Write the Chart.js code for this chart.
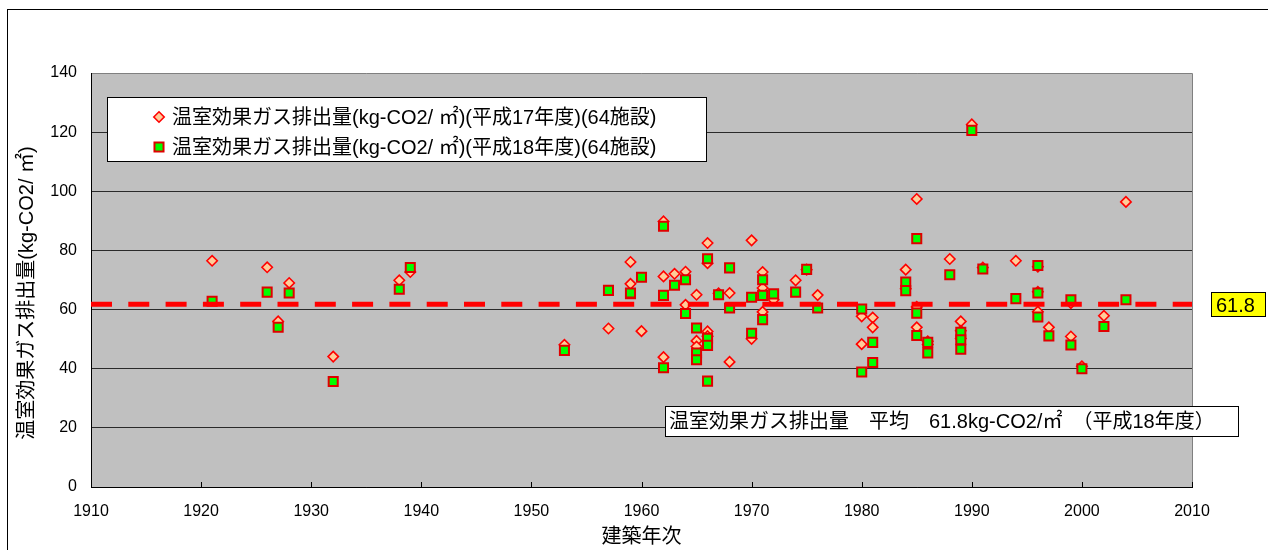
<!DOCTYPE html>
<html>
<head>
<meta charset="utf-8">
<title>建築年次別 温室効果ガス排出量</title>
<script src="https://cdn.jsdelivr.net/npm/chart.js@4.4.1/dist/chart.umd.min.js"></script>
<style>
  html, body { margin: 0; padding: 0; background: #ffffff; }
  #wrap { width: 1268px; height: 550px; position: relative; }
</style>
</head>
<body>
<div id="wrap"><canvas id="chart" width="1268" height="550"></canvas></div>
<script>
// Year each facility was built (64 facilities)
const buildYears = [
  1921, 1926, 1927, 1928, 1932, 1938, 1939, 1953, 1957, 1959,
  1959, 1960, 1962, 1962, 1962, 1963, 1964, 1964, 1965, 1965,
  1965, 1966, 1966, 1966, 1966, 1967, 1968, 1968, 1970, 1970,
  1971, 1971, 1971, 1972, 1974, 1975, 1976, 1980, 1980, 1981,
  1981, 1984, 1984, 1985, 1985, 1985, 1986, 1986, 1988, 1989,
  1989, 1989, 1990, 1991, 1994, 1996, 1996, 1996, 1997, 1999,
  1999, 2000, 2002, 2004
];

// GHG emissions per floor area (kg-CO2/m2), fiscal H17
const ghgH17 = [
  76.5, 74.3, 56.0, 69.0, 44.1, 69.9, 72.7, 48.1, 53.6, 76.1,
  68.7, 52.7, 89.8, 71.2, 43.9, 72.1, 72.8, 61.6, 65.0, 49.4,
  47.5, 82.5, 75.7, 52.6, 51.0, 65.5, 65.6, 42.3, 83.4, 50.1,
  72.7, 67.3, 59.2, 63.3, 69.9, 73.5, 64.9, 57.7, 48.3, 57.3,
  54.0, 73.5, 67.0, 97.4, 60.9, 54.0, 49.3, 48.2, 77.1, 56.0,
  52.8, 50.2, 122.6, 74.2, 76.5, 74.5, 66.0, 59.3, 54.0, 62.2,
  50.9, 40.8, 57.9, 96.4
];

// GHG emissions per floor area (kg-CO2/m2), fiscal H18
const ghgH18 = [
  62.8, 65.9, 54.0, 65.6, 35.7, 66.9, 74.2, 46.2, 66.5, 65.4,
  65.6, 70.9, 88.2, 64.8, 40.3, 68.2, 70.1, 58.7, 53.8, 45.3,
  43.0, 77.2, 35.8, 50.3, 47.9, 65.0, 60.5, 74.1, 64.2, 52.0,
  70.1, 64.8, 56.6, 65.3, 65.9, 73.6, 60.5, 60.2, 38.9, 48.9,
  42.1, 69.3, 66.4, 84.0, 58.8, 51.2, 48.9, 45.3, 71.8, 52.3,
  49.8, 46.6, 120.6, 73.7, 63.7, 74.9, 65.6, 57.5, 51.1, 63.3,
  48.0, 40.0, 54.3, 63.3
];

// H18 average across all facilities
const averageH18 = 61.8;

// Axis ticks
const yearTicks = [1910, 1920, 1930, 1940, 1950, 1960, 1970, 1980, 1990, 2000, 2010];
const emissionTicks = [0, 20, 40, 60, 80, 100, 120, 140];

// Texts
const labelH17 = '温室効果ガス排出量(kg-CO2/ ㎡)(平成17年度)(64施設)';
const labelH18 = '温室効果ガス排出量(kg-CO2/ ㎡)(平成18年度)(64施設)';
const yTitle = '温室効果ガス排出量(kg-CO2/ ㎡)';
const xTitle = '建築年次';
const averageNote = '温室効果ガス排出量　平均　' + averageH18 + 'kg-CO2/㎡　（平成18年度）';

const FONT = "'Liberation Sans', 'Noto Sans CJK JP', Arial, sans-serif";

const pointsOf = (values) => buildYears.map((yr, i) => ({ x: yr, y: values[i] }));

function drawMarker(ctx, ds, x, y) {
  ctx.save();
  ctx.fillStyle = ds.pointBackgroundColor;
  ctx.strokeStyle = ds.pointBorderColor;
  ctx.lineWidth = ds.pointBorderWidth;
  const opts = { pointStyle: ds.pointStyle, radius: ds.pointRadius, borderWidth: ds.pointBorderWidth, rotation: 0 };
  if (Chart.helpers && Chart.helpers.drawPoint) {
    Chart.helpers.drawPoint(ctx, opts, x, y);
  }
  ctx.restore();
}

// Grey plot background and the outer frame
const frame = {
  id: 'frame',
  beforeDraw(chart) {
    const { ctx, chartArea: a } = chart;
    ctx.save();
    ctx.fillStyle = '#ffffff';
    ctx.fillRect(0, 0, chart.width, chart.height);
    ctx.strokeStyle = '#000000';
    ctx.lineWidth = 1;
    ctx.strokeRect(7.5, 9.5, chart.width + 20, chart.height + 20);
    ctx.fillStyle = '#c0c0c0';
    ctx.fillRect(a.left, a.top, a.right - a.left, a.bottom - a.top);
    ctx.strokeStyle = '#808080';
    ctx.beginPath();
    ctx.moveTo(a.left, a.top + 0.5);
    ctx.lineTo(a.right + 0.5, a.top + 0.5);
    ctx.lineTo(a.right + 0.5, a.bottom);
    ctx.stroke();
    ctx.restore();
  }
};

// Inward x ticks, legend, average note and label, vertical axis title
const overlay = {
  id: 'overlay',
  afterDraw(chart) {
    const { ctx, chartArea: a, scales } = chart;
    ctx.save();

    // x tick marks pointing into the plot
    ctx.strokeStyle = '#000000';
    ctx.lineWidth = 1;
    ctx.beginPath();
    scales.x.ticks.forEach(t => {
      const px = Math.round(scales.x.getPixelForValue(t.value)) + 0.5;
      ctx.moveTo(px, a.bottom);
      ctx.lineTo(px, a.bottom - 5);
    });
    ctx.stroke();

    // legend box
    const lx = a.left + 16, ly = a.top + 24, lw = 599, lh = 64;
    ctx.fillStyle = '#ffffff';
    ctx.fillRect(lx, ly, lw, lh);
    ctx.strokeStyle = '#000000';
    ctx.strokeRect(lx + 0.5, ly + 0.5, lw, lh);
    const entries = [chart.data.datasets[2], chart.data.datasets[1]];
    ctx.font = '20px ' + FONT;
    ctx.textBaseline = 'middle';
    ctx.textAlign = 'left';
    entries.forEach((ds, i) => {
      const cy = ly + 20 + i * 30;
      drawMarker(ctx, ds, lx + 52, cy);
      ctx.fillStyle = '#000000';
      ctx.fillText(ds.label, lx + 65, cy + 1);
    });

    // average note box
    const nx = 665, ny = 406, nw = 573, nh = 30;
    ctx.fillStyle = '#ffffff';
    ctx.fillRect(nx, ny, nw, nh);
    ctx.strokeStyle = '#000000';
    ctx.strokeRect(nx + 0.5, ny + 0.5, nw, nh);
    ctx.fillStyle = '#000000';
    ctx.font = '20px ' + FONT;
    ctx.fillText(averageNote, nx + 4, ny + nh / 2 + 1);

    // average value label beside the dashed line
    const ay = scales.y.getPixelForValue(averageH18);
    const bx = a.right + 19, bw = 54, bh = 24;
    ctx.fillStyle = '#ffff00';
    ctx.fillRect(bx, ay - bh / 2, bw, bh);
    ctx.strokeStyle = '#000000';
    ctx.strokeRect(bx + 0.5, Math.round(ay - bh / 2) + 0.5, bw, bh);
    ctx.fillStyle = '#000000';
    ctx.font = '20px ' + FONT;
    ctx.fillText(String(averageH18), bx + 5, ay + 2);

    // vertical axis title
    ctx.translate(27, (a.top + a.bottom) / 2 + 13);
    ctx.rotate(-Math.PI / 2);
    ctx.textAlign = 'center';
    ctx.font = '20px ' + FONT;
    ctx.fillText(yTitle, 0, 0);

    ctx.restore();
  }
};

new Chart(document.getElementById('chart'), {
  type: 'scatter',
  data: {
    datasets: [
      {
        type: 'line',
        label: '平均',
        data: [
          { x: yearTicks[0], y: averageH18 },
          { x: yearTicks[yearTicks.length - 1], y: averageH18 }
        ],
        borderColor: '#ff0000',
        borderWidth: 5,
        borderDash: [21, 16.3],
        borderCapStyle: 'butt',
        pointRadius: 0,
        fill: false,
        order: 0
      },
      {
        label: labelH18,
        data: pointsOf(ghgH18),
        pointStyle: 'rect',
        pointRadius: 6.4,
        pointBorderWidth: 2,
        pointBackgroundColor: '#00ff00',
        pointBorderColor: '#e00000',
        order: 1
      },
      {
        label: labelH17,
        data: pointsOf(ghgH17),
        pointStyle: 'rectRot',
        pointRadius: 5.2,
        pointBorderWidth: 1.6,
        pointBackgroundColor: '#ffcc99',
        pointBorderColor: '#ff0000',
        order: 2
      }
    ]
  },
  options: {
    responsive: false,
    animation: false,
    devicePixelRatio: 1,
    layout: { padding: { left: 0, right: 76, top: 73, bottom: 0 } },
    plugins: {
      legend: { display: false },
      tooltip: { enabled: false },
      title: { display: false }
    },
    scales: {
      x: {
        type: 'linear',
        min: yearTicks[0],
        max: yearTicks[yearTicks.length - 1],
        afterBuildTicks: s => { s.ticks = yearTicks.map(v => ({ value: v })); },
        afterFit: s => { s.height = 63; },
        grid: { display: false, drawTicks: false },
        border: { display: true, color: '#000000', width: 1 },
        ticks: {
          color: '#000000',
          font: { family: FONT, size: 16 },
          padding: 15,
          maxRotation: 0,
          autoSkip: false,
          callback: v => String(v)
        },
        title: {
          display: true,
          text: xTitle,
          color: '#000000',
          font: { family: FONT, size: 20 },
          padding: { top: 0, bottom: 1 }
        }
      },
      y: {
        type: 'linear',
        min: emissionTicks[0],
        max: emissionTicks[emissionTicks.length - 1],
        afterBuildTicks: s => { s.ticks = emissionTicks.map(v => ({ value: v })); },
        afterFit: s => { s.width = 91; },
        grid: {
          color: c => (c.tick && c.tick.value === emissionTicks[emissionTicks.length - 1]) ? 'rgba(0,0,0,0)' : '#2a2a2a',
          lineWidth: 1,
          drawTicks: false
        },
        border: { display: true, color: '#000000', width: 1 },
        ticks: {
          color: '#000000',
          font: { family: FONT, size: 16 },
          padding: 14,
          callback: v => String(v)
        }
      }
    }
  },
  plugins: [frame, overlay]
});
</script>
</body>
</html>
